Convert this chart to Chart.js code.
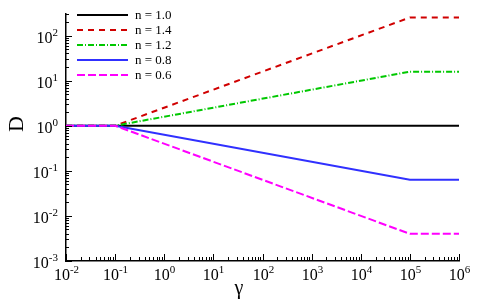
<!DOCTYPE html>
<html>
<head>
<meta charset="utf-8">
<script src="https://cdn.jsdelivr.net/npm/chart.js@4"></script>
<style>
  html, body { margin: 0; padding: 0; background: #fff; }
  #wrap { width: 480px; height: 304px; }
</style>
</head>
<body>
<div id="wrap"><canvas id="chart" width="480" height="304"></canvas></div>
<script>
// gamma values where the curves bend
const gamma = [0.01, 0.1, 1e5, 1e6];
const labels = ["n = 1.0", "n = 1.4", "n = 1.2", "n = 0.8", "n = 0.6"];
const n10 = [1, 1, 1, 1];
const n14 = [1, 1, 251, 251];
const n12 = [1, 1, 15.8, 15.8];
const n08 = [1, 1, 0.063, 0.063];
const n06 = [1, 1, 0.004, 0.004];
const xDecades = [-2, -1, 0, 1, 2, 3, 4, 5, 6];
const yDecades = [-3, -2, -1, 0, 1, 2];

const colors = ["#000000", "#d00000", "#00c800", "#3030ff", "#ff00ff"];
const dashes = [[], [6, 5], [6, 2, 1, 2], [], [8, 3]];
const series = [n10, n14, n12, n08, n06];

const SERIF = "'Liberation Serif', 'Times New Roman', serif";

function pts(vals) {
  return gamma.map((g, i) => ({ x: g, y: vals[i] }));
}

// ticks drawn inward + superscript labels
const axisPlugin = {
  id: "axisDeco",
  afterDraw(chart) {
    const ctx = chart.ctx;
    const xs = chart.scales.x;
    const ys = chart.scales.y;
    const area = chart.chartArea;
    ctx.save();
    ctx.strokeStyle = "#000";
    ctx.lineWidth = 1;

    // x ticks
    xDecades.forEach((k, i) => {
      let px = Math.round(xs.getPixelForValue(Math.pow(10, k))) + 0.5;
      ctx.beginPath();
      ctx.moveTo(px, area.bottom);
      ctx.lineTo(px, area.bottom - 7);
      ctx.stroke();
      if (i < xDecades.length - 1) {
        for (let m = 2; m < 10; m++) {
          let p = Math.round(xs.getPixelForValue(m * Math.pow(10, k))) + 0.5;
          ctx.beginPath();
          ctx.moveTo(p, area.bottom);
          ctx.lineTo(p, area.bottom - 4);
          ctx.stroke();
        }
      }
      drawPow(ctx, k, px, area.bottom + 19, "center");
    });

    // y ticks
    yDecades.forEach((k) => {
      let py = Math.round(ys.getPixelForValue(Math.pow(10, k))) + 0.5;
      ctx.beginPath();
      ctx.moveTo(area.left, py);
      ctx.lineTo(area.left + 6, py);
      ctx.stroke();
      for (let m = 2; m < 10; m++) {
        let v = m * Math.pow(10, k);
        if (v > ys.max) break;
        let p = Math.round(ys.getPixelForValue(v)) + 0.5;
        ctx.beginPath();
        ctx.moveTo(area.left, p);
        ctx.lineTo(area.left + 3, p);
        ctx.stroke();
      }
      drawPow(ctx, k, area.left - 8, py + 6, "right");
    });

    // axis titles
    ctx.fillStyle = "#000";
    ctx.font = "20px " + SERIF;
    ctx.textAlign = "center";
    ctx.textBaseline = "middle";
    ctx.fillText("\u03b3", 239, 289);
    ctx.save();
    ctx.translate(17, 124);
    ctx.rotate(-Math.PI / 2);
    ctx.font = "22px " + SERIF;
    ctx.fillText("D", 0, 0);
    ctx.restore();

    // legend
    ctx.textAlign = "left";
    ctx.font = "13px " + SERIF;
    chart.data.datasets.forEach((ds, i) => {
      let y = 15 + i * 15;
      ctx.strokeStyle = ds.borderColor;
      ctx.lineWidth = 2;
      ctx.setLineDash(ds.borderDash);
      ctx.beginPath();
      ctx.moveTo(77, y);
      ctx.lineTo(128, y);
      ctx.stroke();
      ctx.setLineDash([]);
      ctx.fillStyle = "#000";
      ctx.fillText(ds.label, 135, y + 1);
    });
    ctx.restore();
  }
};

function drawPow(ctx, k, x, baseline, align) {
  const base = "10";
  const exp = String(k);
  ctx.font = "16px " + SERIF;
  const wb = ctx.measureText(base).width;
  ctx.font = "11px " + SERIF;
  const we = ctx.measureText(exp).width;
  let left = align === "center" ? x - (wb + we) / 2 : x - wb - we;
  ctx.fillStyle = "#000";
  ctx.textAlign = "left";
  ctx.textBaseline = "alphabetic";
  ctx.font = "16px " + SERIF;
  ctx.fillText(base, left, baseline);
  ctx.font = "11px " + SERIF;
  ctx.fillText(exp, left + wb, baseline - 7);
}

const datasets = series.map((s, i) => ({
  label: labels[i],
  data: pts(s),
  borderColor: colors[i],
  borderWidth: 2,
  borderDash: dashes[i],
  pointRadius: 0,
  fill: false,
  tension: 0,
  order: 5 - i,
}));

new Chart(document.getElementById("chart"), {
  type: "line",
  data: { datasets: datasets },
  options: {
    responsive: false,
    animation: false,
    layout: { padding: { left: 66, right: 21, top: 14, bottom: 43 } },
    plugins: { legend: { display: false }, tooltip: { enabled: false } },
    scales: {
      x: {
        type: "logarithmic",
        min: 0.01,
        max: 1e6,
        grid: { display: false, drawTicks: false },
        border: { display: true, color: "#000", width: 1.5 },
        ticks: { display: false },
      },
      y: {
        type: "logarithmic",
        min: 0.001,
        max: 300,
        grid: { display: false, drawTicks: false },
        border: { display: true, color: "#000", width: 1.5 },
        ticks: { display: false },
      },
    },
  },
  plugins: [axisPlugin],
});
</script>
</body>
</html>
